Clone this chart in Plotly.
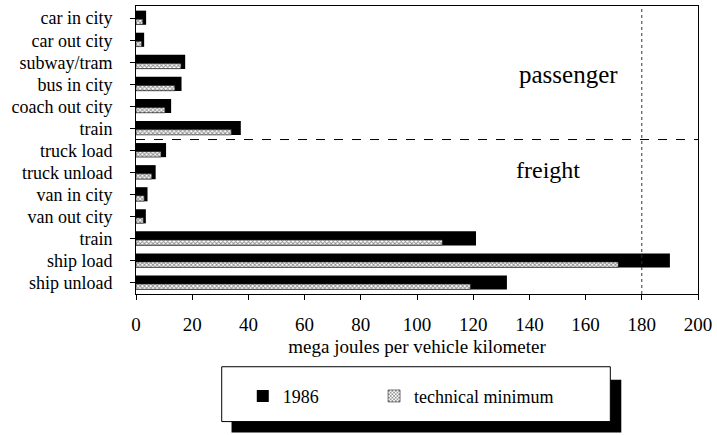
import plotly.graph_objects as go

categories = ["car in city", "car out city", "subway/tram", "bus in city", "coach out city",
              "train", "truck load", "truck unload", "van in city", "van out city",
              "train", "ship load", "ship unload"]
values_1986 = [3.6, 2.9, 17.5, 16.2, 12.5, 37.3, 10.7, 7.0, 4.1, 3.5, 121.0, 190.0, 132.0]
values_min = [2.4, 2.0, 16.0, 13.8, 10.3, 33.9, 8.9, 5.6, 2.9, 2.6, 109.0, 171.6, 119.0]
x_ticks = [0, 20, 40, 60, 80, 100, 120, 140, 160, 180, 200]
series_names = ["1986", "technical minimum"]
section_labels = ["passenger", "freight"]

pos = list(range(len(categories)))
FONT = "Liberation Serif, Times New Roman, serif"

fig = go.Figure()
fig.add_trace(go.Bar(
    x=values_1986, y=pos, orientation="h", name=series_names[0],
    width=0.64, offset=-0.34, legend="legend",
    marker=dict(color="#000000", line=dict(width=0)),
))
fig.add_trace(go.Bar(
    x=values_min, y=pos, orientation="h", name=series_names[1],
    width=0.24, offset=0.05, legend="legend2",
    marker=dict(color="#ffffff", line=dict(width=0.6, color="#222"),
                pattern=dict(shape="x", fgcolor="#222222", bgcolor="#ffffff",
                             size=3, solidity=0.55)),
))

leg_common = dict(orientation="h", yanchor="middle", xanchor="left",
                  bgcolor="rgba(0,0,0,0)", borderwidth=0,
                  font=dict(size=18, family=FONT))
fig.update_layout(
    width=717, height=435,
    margin=dict(l=136, r=17, t=5, b=141),
    paper_bgcolor="white", plot_bgcolor="white",
    barmode="overlay",
    font=dict(family=FONT, color="black"),
    showlegend=True,
    legend=dict(x=0.19, y=-0.355, **leg_common),
    legend2=dict(x=0.4236, y=-0.355, **leg_common),
)
fig.update_xaxes(
    range=[0, 200], tickvals=x_ticks, ticks="outside", ticklen=5, tickcolor="black",
    showline=True, linecolor="black", linewidth=1, mirror=True, showgrid=False,
    zeroline=False, tickfont=dict(size=19), ticklabelstandoff=8,
    title=dict(text="mega joules per vehicle kilometer", font=dict(size=19), standoff=5),
)
fig.update_yaxes(
    range=[12.5, -0.55], tickvals=pos, ticktext=categories, ticks="outside", ticklen=5,
    tickcolor="black", showline=True, linecolor="black", linewidth=1, mirror=True,
    showgrid=False, zeroline=False, tickfont=dict(size=18), ticklabelstandoff=14,
)

# separator between passenger and freight, reference line at 180
fig.add_shape(type="line", xref="paper", x0=0, x1=1, yref="y", y0=5.5, y1=5.5,
              line=dict(color="black", width=1, dash="dash"))
fig.add_shape(type="line", xref="x", x0=180, x1=180, yref="paper", y0=0, y1=1,
              line=dict(color="#333", width=1, dash="dot"))

fig.add_annotation(x=154, y=2.55, xref="x", yref="y", text=section_labels[0],
                   showarrow=False, font=dict(size=25, family=FONT))
fig.add_annotation(x=146.5, y=6.9, xref="x", yref="y", text=section_labels[1],
                   showarrow=False, font=dict(size=24, family=FONT))

# legend box with drop shadow
fig.add_shape(type="rect", xref="paper", yref="paper", x0=0.170, x1=0.8635,
              y0=-0.481, y1=-0.298, fillcolor="black", line=dict(width=0), layer="below")
fig.add_shape(type="rect", xref="paper", yref="paper", x0=0.1525, x1=0.844,
              y0=-0.443, y1=-0.2526, fillcolor="white", line=dict(width=1, color="black"),
              layer="below")

fig.write_html("out.html", config={"displayModeBar": False},
               post_script="document.body.style.margin='0';")
